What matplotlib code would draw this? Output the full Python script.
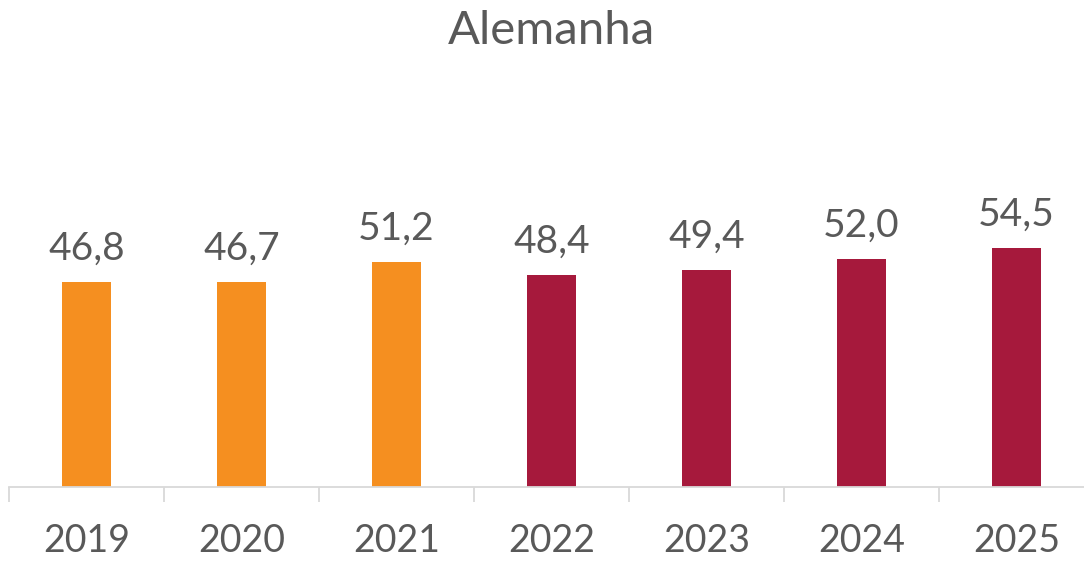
import matplotlib

matplotlib.use("Agg")
import matplotlib.pyplot as plt

years = ["2019", "2020", "2021", "2022", "2023", "2024", "2025"]
values = [46.8, 46.7, 51.2, 48.4, 49.4, 52.0, 54.5]
# first three years orange (actual), rest crimson (forecast)
colors = ["#F58F20"] * 3 + ["#A6193C"] * 4
labels = ["46,8", "46,7", "51,2", "48,4", "49,4", "52,0", "54,5"]

TEXT = "#595959"
AXIS = "#D9D9D9"

plt.rcParams["font.family"] = ["Lato", "DejaVu Sans"]

W, H = 1084, 562
left_px, right_px, base_px, top_px = 9, 1094, 487, 92

fig = plt.figure(figsize=(W / 100, H / 100), dpi=100)
ax = fig.add_axes([left_px / W, 1 - base_px / H,
                   (right_px - left_px) / W, (base_px - top_px) / H])

x = list(range(len(years)))
ax.bar(x, values, width=0.316, color=colors, zorder=2)
for xi, v, lab in zip(x, values, labels):
    ax.annotate(lab, (xi, v), xytext=(0, 11), textcoords="offset points",
                ha="center", va="bottom", fontsize=28, color=TEXT)

ax.set_xlim(-0.5, len(years) - 0.5)
ax.set_ylim(0, 90)
ax.set_yticks([])
for side in ("top", "right", "left"):
    ax.spines[side].set_visible(False)
ax.spines["bottom"].set_color(AXIS)
ax.spines["bottom"].set_linewidth(1.3)

# ticks at category boundaries, labels at centers
ax.set_xticks([i - 0.5 for i in range(len(years) + 1)])
ax.set_xticklabels([])
ax.tick_params(axis="x", which="major", length=10.5, color=AXIS, width=1.3)
ax.set_xticks(x, minor=True)
ax.set_xticklabels(years, minor=True)
ax.tick_params(axis="x", which="minor", length=0, pad=26, labelsize=27,
               labelcolor=TEXT)

fig.text((left_px + right_px) / 2 / W, 1 - 31 / H, "Alemanha",
         ha="center", va="center", fontsize=34, color=TEXT)

fig.savefig("out.png", dpi=100)
